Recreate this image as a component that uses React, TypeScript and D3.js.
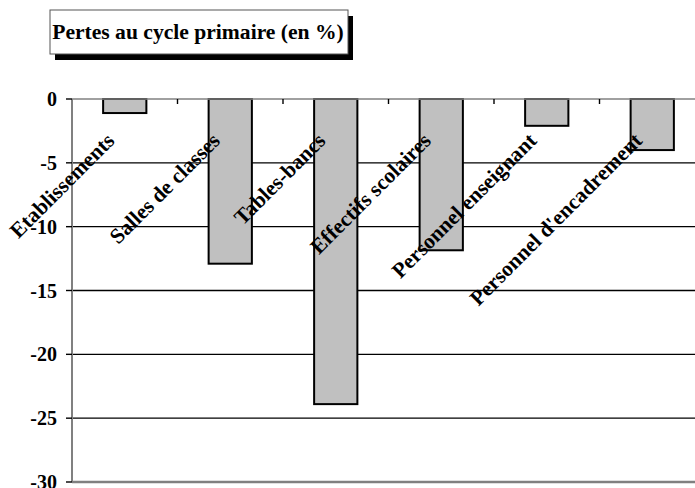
import React from "react";
import * as d3 from "d3";

const categories = [
  "Etablissements",
  "Salles de classes",
  "Tables-bancs",
  "Effectifs scolaires",
  "Personnel enseignant",
  "Personnel d'encadrement",
];
const values = [-1.1, -12.9, -23.9, -11.85, -2.1, -4.0];
const yTicks = [0, -5, -10, -15, -20, -25, -30];
const title = "Pertes au cycle primaire (en %)";

const W = 695;
const H = 488;
const left = 72;
const top = 99;
const bottom = 482;
const bandW = 105.5;

export default function App() {
  const x = d3
    .scaleBand<string>()
    .domain(categories)
    .range([left, left + bandW * categories.length])
    .paddingInner(0.59)
    .paddingOuter(0.295);
  const y = d3.scaleLinear().domain([0, -30]).range([top, bottom]);
  const font = "'Liberation Serif', 'Times New Roman', serif";
  const step = x.step();
  const x0 = left;

  return (
    <svg
      width={W}
      height={H}
      style={{ position: "absolute", left: 0, top: 0, background: "#fff" }}
      fontFamily={font}
    >
      {/* title box with shadow */}
      <rect x={55} y={16} width={298} height={44} fill="#000" />
      <rect x={50} y={10} width={298} height={44} fill="#fff" stroke="#555" strokeWidth={1} />
      <text x={198} y={39} textAnchor="middle" fontWeight="bold" fontSize={21.6}>
        {title}
      </text>

      {/* gridlines */}
      {yTicks
        .filter((t) => t !== 0 && t !== -30)
        .map((t) => (
          <line key={t} x1={left} x2={W} y1={y(t)} y2={y(t)} stroke="#000" strokeWidth={1.4} />
        ))}

      {/* bars */}
      {categories.map((c, i) => (
        <rect
          key={c}
          x={x(c)}
          y={y(0)}
          width={x.bandwidth()}
          height={y(values[i]) - y(0)}
          fill="#c0c0c0"
          stroke="#000"
          strokeWidth={2}
        />
      ))}

      {/* axes */}
      <line x1={left} x2={W} y1={y(0)} y2={y(0)} stroke="#808080" strokeWidth={1.5} />
      <line x1={left} x2={W} y1={y(-30)} y2={y(-30)} stroke="#808080" strokeWidth={2.5} />
      <line x1={left} x2={left} y1={y(0)} y2={y(-30)} stroke="#808080" strokeWidth={2} />

      {/* y ticks */}
      {yTicks.map((t) => (
        <g key={t}>
          <line x1={left - 6} x2={left} y1={y(t)} y2={y(t)} stroke="#000" strokeWidth={1.4} />
          <text
            x={57}
            y={y(t)}
            dy="0.35em"
            textAnchor="end"
            fontWeight="bold"
            fontSize={20}
          >
            {t}
          </text>
        </g>
      ))}

      {/* x ticks at category boundaries */}
      {categories.map((c, i) => (
        <line
          key={c}
          x1={x0 + step * (i + 1)}
          x2={x0 + step * (i + 1)}
          y1={y(0)}
          y2={y(0) + 5}
          stroke="#000"
          strokeWidth={1.4}
        />
      ))}

      {/* category labels */}
      {categories.map((c) => {
        const cx = (x(c) as number) + x.bandwidth() / 2 - 9;
        const cy = 142;
        return (
          <text
            key={c}
            transform={`translate(${cx},${cy}) rotate(-45)`}
            textAnchor="end"
            fontWeight="bold"
            fontSize={21.5}
          >
            {c}
          </text>
        );
      })}
    </svg>
  );
}
